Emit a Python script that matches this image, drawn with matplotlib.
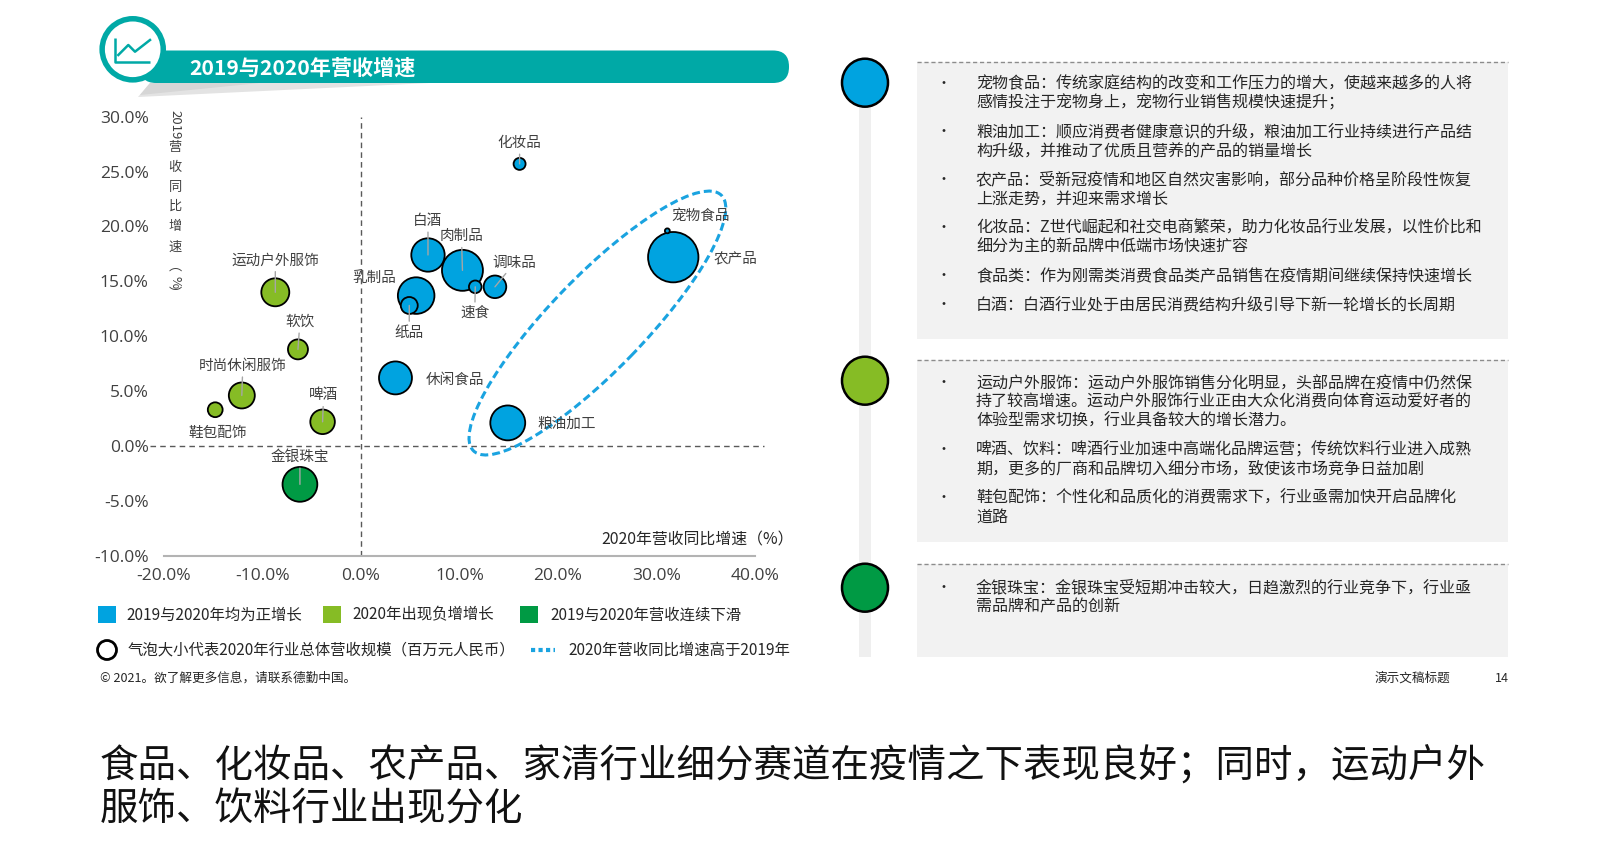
import numpy as np
import matplotlib
matplotlib.use('Agg')
import matplotlib.pyplot as plt
from matplotlib.patches import Circle, Ellipse, FancyBboxPatch, Rectangle, Polygon
from matplotlib.transforms import ScaledTranslation

plt.rcParams['font.family'] = ['Noto Sans CJK SC', 'DejaVu Sans']

# bubble data (x: 2020 growth %, y: 2019 growth %)
categories = ['化妆品', '白酒', '肉制品', '速食', '调味品', '乳制品', '纸品', '宠物食品',
              '农产品', '休闲食品', '粮油加工', '运动户外服饰', '软饮', '时尚休闲服饰',
              '鞋包配饰', '啤酒', '金银珠宝']
growth_2020 = [16.1, 6.8, 10.3, 11.6, 13.6, 5.6, 4.9, 31.1,
               31.7, 3.5, 14.9, -8.7, -6.4, -12.1,
               -14.8, -3.9, -6.2]
growth_2019 = [25.7, 17.4, 16.0, 14.5, 14.5, 13.7, 12.8, 19.6,
               17.2, 6.2, 2.1, 14.0, 8.8, 4.6,
               3.3, 2.2, -3.5]
# relative 2020 revenue scale (bubble area)
revenue_2020 = [36, 279, 420, 40, 128, 335, 72, 6,
                635, 272, 305, 196, 100, 169,
                55, 151, 303]
groups = [0, 0, 0, 0, 0, 0, 0, 0, 0, 0, 0, 1, 1, 1, 1, 1, 2]

group_colors = ['#00a3e0', '#86bc25', '#009a44']
group_names = ['2019与2020年均为正增长', '2020年出现负增增长', '2019与2020年营收连续下滑']

xticks = [-20, -10, 0, 10, 20, 30, 40]
yticks = [-10, -5, 0, 5, 10, 15, 20, 25, 30]

# label placement (data coords) and whether a leader line is drawn
label_pos = {
    '化妆品': (16.1, 27.6, True), '白酒': (6.8, 20.5, True), '肉制品': (10.2, 19.1, True),
    '速食': (11.55, 12.1, True), '调味品': (15.6, 16.7, True), '乳制品': (1.3, 15.3, False),
    '纸品': (4.9, 10.35, True), '宠物食品': (34.5, 21.0, False), '农产品': (38.0, 17.1, False),
    '休闲食品': (9.5, 6.0, False), '粮油加工': (20.9, 2.0, False),
    '运动户外服饰': (-8.7, 16.9, True), '软饮': (-6.2, 11.3, True),
    '时尚休闲服饰': (-12.0, 7.3, True), '鞋包配饰': (-14.5, 1.2, False),
    '啤酒': (-3.8, 4.6, True), '金银珠宝': (-6.2, -1.0, True),
}

box_texts = [
    ['宠物食品：传统家庭结构的改变和工作压力的增大，使越来越多的人将\n感情投注于宠物身上，宠物行业销售规模快速提升；',
     '粮油加工：顺应消费者健康意识的升级，粮油加工行业持续进行产品结\n构升级，并推动了优质且营养的产品的销量增长',
     '农产品：受新冠疫情和地区自然灾害影响，部分品种价格呈阶段性恢复\n上涨走势，并迎来需求增长',
     '化妆品：Z世代崛起和社交电商繁荣，助力化妆品行业发展，以性价比和\n细分为主的新品牌中低端市场快速扩容',
     '食品类：作为刚需类消费食品类产品销售在疫情期间继续保持快速增长',
     '白酒：白酒行业处于由居民消费结构升级引导下新一轮增长的长周期'],
    ['运动户外服饰：运动户外服饰销售分化明显，头部品牌在疫情中仍然保\n持了较高增速。运动户外服饰行业正由大众化消费向体育运动爱好者的\n体验型需求切换，行业具备较大的增长潜力。',
     '啤酒、饮料：啤酒行业加速中高端化品牌运营；传统饮料行业进入成熟\n期，更多的厂商和品牌切入细分市场，致使该市场竞争日益加剧',
     '鞋包配饰：个性化和品质化的消费需求下，行业亟需加快开启品牌化\n道路'],
    ['金银珠宝：金银珠宝受短期冲击较大，日趋激烈的行业竞争下，行业亟\n需品牌和产品的创新'],
]

headline = ['食品、化妆品、农产品、家清行业细分赛道在疫情之下表现良好；同时，运动户外',
            '服饰、饮料行业出现分化']

teal = '#00a9a6'
txt = '#404040'

W, H = 1600, 846
fig = plt.figure(figsize=(16, 8.46), dpi=100)

# overlay in pixel coords for the slide furniture
ov = fig.add_axes([0, 0, 1, 1])
ov.set_xlim(0, W)
ov.set_ylim(H, 0)
ov.axis('off')

# title banner
ov.add_patch(Polygon([(138, 97), (150, 83), (430, 83)], closed=True, fc='#e3e3e3', ec='none'))
ov.add_patch(Polygon([(140, 95), (150, 83), (260, 83)], closed=True, fc='#d6d6d6', ec='none'))
ov.add_patch(FancyBboxPatch((140, 50.5), 649, 32.5, boxstyle='round,pad=0,rounding_size=16',
                            fc=teal, ec='none'))
ov.add_patch(Circle((132.7, 49.3), 33.3, fc=teal, ec='none'))
ov.add_patch(Circle((132.7, 49.3), 27.8, fc='white', ec='none'))
ov.plot([115, 115, 150], [38.3, 61.7, 61.7], color=teal, lw=1.8, solid_capstyle='butt')
ov.plot([118.3, 128.3, 135, 150], [55, 45, 51.7, 40], color=teal, lw=1.8)
ov.text(189, 68, '2019与2020年营收增速', color='white', fontsize=15.2, fontweight='bold',
        va='center', ha='left')

# vertical y-axis title
ov.text(175, 125, '2019', rotation=-90, fontsize=9.5, color=txt, ha='center', va='center')
for ch, yy in zip(['营', '收', '同', '比', '增', '速', '︵', '%', '︶'],
                  [148, 167.5, 187, 206.7, 226.7, 247, 266, 281.7, 294]):
    ov.text(175, yy, ch, rotation=-90 if ch == '%' else 0, fontsize=9.5, color=txt,
            ha='center', va='center')

# legend
for k, (lx, tx) in enumerate([(98, 126.6), (323, 352.5), (520, 550)]):
    ov.add_patch(Rectangle((lx, 606.5), 18, 17, fc=group_colors[k], ec='none'))
    ov.text(tx, 615, group_names[k], fontsize=11.1, color='#262626', va='center')
ov.add_patch(Circle((107, 650), 9.5, fill=False, ec='black', lw=2))
ov.text(128, 650, '气泡大小代表2020年行业总体营收规模（百万元人民币）', fontsize=11.1,
        color='#262626', va='center')
ov.plot([531, 555], [650, 650], color='#1aa3e0', lw=3, ls=(0, (1, 0.8)))
ov.text(568, 650, '2020年营收同比增速高于2019年', fontsize=11.1, color='#262626', va='center')

# right panel
ov.add_patch(Rectangle((859.4, 82.7), 11.1, 657 - 82.7, fc='#efefef', ec='none'))
boxes = [(61.7, 339), (360, 542.3), (564, 657.3)]
circle_y = [82.7, 380.7, 587.7]
text_start = [84.3, 383.3, 588.3]
for k, (top, bot) in enumerate(boxes):
    ov.add_patch(Rectangle((917, top), 591, bot - top, fc='#f2f2f2', ec='none'))
    ov.plot([917, 1508], [top, top], color='#8c8c8c', lw=1, ls=(0, (3, 2)))
    ov.add_patch(Ellipse((865, circle_y[k]), 46, 48, fc=group_colors[k], ec='black', lw=1.8))
    y = text_start[k]
    for para in box_texts[k]:
        lines = para.split('\n')
        ov.text(943, y, '•', fontsize=10, color='#262626', ha='center', va='center')
        for j, line in enumerate(lines):
            ov.text(976, y + 19 * j, line, fontsize=11.55, color='#262626', va='center')
        y += 19 * len(lines) + 10

# footer
ov.text(100, 678, '© 2021。欲了解更多信息，请联系德勤中国。', fontsize=9.1, color='#262626', va='center')
ov.text(1412, 678, '演示文稿标题', fontsize=9.1, color='#262626', va='center', ha='center')
ov.text(1502, 678, '14', fontsize=9.1, color='#262626', va='center', ha='center')

# headline
for j, line in enumerate(headline):
    ov.text(100, 766 + 44 * j, line, fontsize=27.7, fontweight='medium', color='#111111',
            va='center')

# bubble chart
ax = fig.add_axes([164 / W, 1 - 555.7 / H, 591 / W, 439 / H])
ax.set_facecolor('none')
ax.set_xlim(-20, 40)
ax.set_ylim(-10, 30)

order = np.argsort(revenue_2020)[::-1]
ax.scatter(np.array(growth_2020)[order], np.array(growth_2019)[order],
           s=np.array(revenue_2020)[order] * 2.07,
           c=[group_colors[groups[i]] for i in order],
           edgecolors='black', linewidths=1.3, zorder=3, clip_on=False)

for i, name in enumerate(categories):
    lx, ly, leader = label_pos[name]
    if leader:
        ax.annotate(name, xy=(growth_2020[i], growth_2019[i]), xytext=(lx, ly),
                    ha='center', va='center', fontsize=10.5, color=txt, zorder=4,
                    arrowprops=dict(arrowstyle='-', color='#a6a6a6', lw=1,
                                    shrinkA=1, shrinkB=0))
    else:
        ax.text(lx, ly, name, ha='center', va='center', fontsize=10.5, color=txt, zorder=4)

# reference lines at zero
ax.plot([0, 0], [-10, 30], color='#595959', lw=1, ls=(0, (4, 3)), zorder=1, clip_on=False)
ax.plot([-21.4, 40.9], [0, 0], color='#595959', lw=1, ls=(0, (4, 3)), zorder=1, clip_on=False)

# dashed ellipse marking 2020 growth above 2019
tr = fig.dpi_scale_trans + ScaledTranslation(24.0, 11.2, ax.transData)
ax.add_patch(Ellipse((0, 0), 2 * 178 / 100, 2 * 47 / 100, angle=45.9, transform=tr,
                     fill=False, ec='#1aa3e0', lw=2.2, ls=(0, (2.6, 1.3)), clip_on=False,
                     zorder=2))

for s in ['top', 'right', 'left']:
    ax.spines[s].set_visible(False)
ax.spines['bottom'].set_color('#b3b3b3')
ax.spines['bottom'].set_linewidth(1.5)
ax.set_xticks(xticks)
ax.set_xticklabels([f'{v:.1f}%' for v in xticks])
ax.set_yticks(yticks)
ax.set_yticklabels([f'{v:.1f}%' for v in yticks])
ax.tick_params(axis='x', length=0, pad=9, labelsize=12.5, labelcolor=txt)
ax.tick_params(axis='y', length=0, pad=11, labelsize=12.5, labelcolor=txt)
for lab in ax.get_xticklabels() + ax.get_yticklabels():
    lab.set_fontfamily(['Open Sans', 'DejaVu Sans'])

ax.text(43.9, -8.57, '2020年营收同比增速（%）', ha='right', va='center', fontsize=11.4,
        color='#262626', clip_on=False)

fig.savefig('out.png', dpi=100)
